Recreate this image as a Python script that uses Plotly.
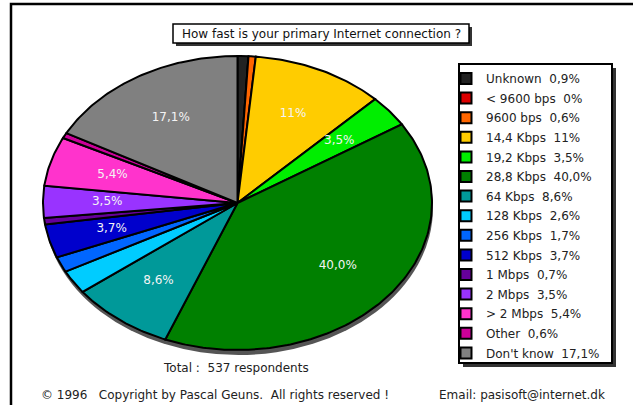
import numpy as np
import plotly.graph_objects as go

# ---------------- data ----------------
categories = ["Unknown", "< 9600 bps", "9600 bps", "14,4 Kbps", "19,2 Kbps",
              "28,8 Kbps", "64 Kbps", "128 Kbps", "256 Kbps", "512 Kbps",
              "1 Mbps", "2 Mbps", "> 2 Mbps", "Other", "Don't know"]
shares = [0.9, 0.0, 0.6, 11.0, 3.5, 40.0, 8.6, 2.6, 1.7, 3.7, 0.7, 3.5, 5.4, 0.6, 17.1]
share_labels = ["0,9%", "0%", "0,6%", "11%", "3,5%", "40,0%", "8,6%", "2,6%",
                "1,7%", "3,7%", "0,7%", "3,5%", "5,4%", "0,6%", "17,1%"]
colors = ["#222222", "#dd0000", "#ff6600", "#ffcc00", "#00ee00",
          "#008000", "#009999", "#00ccff", "#0066ff", "#0000cc",
          "#660099", "#9933ff", "#ff33cc", "#cc0099", "#808080"]
total_respondents = 537
title_text = "How fast is your primary Internet connection ?"
copyright_text = "\u00a9 1996\u00a0\u00a0 Copyright by Pascal Geuns.\u00a0 All rights reserved !"
email_text = "Email: pasisoft@internet.dk"

# ---------------- layout constants (pixels) ----------------
W, H = 633, 405
CX, CY, RX, RY = 237.5, 203, 194.5, 147
FONT = "DejaVu Sans"

fig = go.Figure()

total = sum(shares)
cum = 0.0
label_x, label_y, label_t = [], [], []
for cat, v, lab, col in zip(categories, shares, share_labels, colors):
    a0 = cum / total * 2 * np.pi
    a1 = (cum + v) / total * 2 * np.pi
    n = max(2, int(v * 4) + 2)
    t = np.linspace(a0, a1, n)
    xs = np.concatenate([[CX], CX + RX * np.sin(t), [CX]])
    ys = np.concatenate([[CY], CY - RY * np.cos(t), [CY]])
    fig.add_trace(go.Scatter(x=xs, y=ys, mode="lines", fill="toself",
                             fillcolor=col, line=dict(color="black", width=2),
                             showlegend=False, hoverinfo="text",
                             text=f"{cat}  {lab}", name=cat))
    if v > 3:
        am = (a0 + a1) / 2
        label_x.append(CX + 0.67 * RX * np.sin(am))
        label_y.append(CY - 0.67 * RY * np.cos(am))
        label_t.append(lab)
    cum += v

fig.add_trace(go.Scatter(x=label_x, y=label_y, mode="text", text=label_t,
                         textfont=dict(family=FONT, size=12, color="#f4f4f4"),
                         showlegend=False, hoverinfo="skip"))

# legend entries
for i, (cat, lab, col) in enumerate(zip(categories, share_labels, colors)):
    fig.add_trace(go.Scatter(x=[None], y=[None], mode="markers",
                             marker=dict(symbol="square", size=11, color=col,
                                         line=dict(color="black", width=2)),
                             name=f"{cat}\u00a0 {lab}", legendgroup=str(i),
                             showlegend=True))

shapes = [
    # outer frame
    dict(type="rect", xref="x", yref="y", x0=11, y0=4, x1=W + 10, y1=H + 10,
         line=dict(color="black", width=2.5), layer="below"),
    # pie shadow
    dict(type="circle", xref="x", yref="y", x0=CX - RX + 1, x1=CX + RX + 1,
         y0=CY - RY + 5, y1=CY + RY + 5, fillcolor="#555555",
         line=dict(width=0), layer="below"),
    # title box shadow + box
    dict(type="rect", xref="x", yref="y", x0=176, y0=27, x1=472, y1=46,
         fillcolor="#333333", line=dict(width=0), layer="below"),
    dict(type="rect", xref="x", yref="y", x0=173, y0=24, x1=469, y1=43,
         fillcolor="white", line=dict(color="black", width=1.5), layer="below"),
    # legend box shadow + box
    dict(type="rect", xref="x", yref="y", x0=463, y0=68, x1=616, y1=367,
         fillcolor="#333333", line=dict(width=0), layer="below"),
    dict(type="rect", xref="x", yref="y", x0=459, y0=64, x1=612, y1=363,
         fillcolor="white", line=dict(color="black", width=2), layer="below"),
]

annotations = [
    dict(x=321, y=34, xref="x", yref="y", text=title_text, showarrow=False,
         font=dict(family=FONT, size=12, color="#111111")),
    dict(x=236, y=368, xref="x", yref="y",
         text=f"Total :\u00a0 {total_respondents} respondents", showarrow=False,
         font=dict(family=FONT, size=12, color="#222222")),
    dict(x=39, y=395, xref="x", yref="y", xanchor="left", text=copyright_text,
         showarrow=False, font=dict(family=FONT, size=12, color="#222222")),
    dict(x=437, y=395, xref="x", yref="y", xanchor="left", text=email_text,
         showarrow=False, font=dict(family=FONT, size=12, color="#222222")),
]

fig.update_layout(
    width=W, height=H,
    margin=dict(l=0, r=0, t=0, b=0),
    paper_bgcolor="white", plot_bgcolor="white",
    xaxis=dict(range=[0, W], visible=False, fixedrange=True),
    yaxis=dict(range=[H, 0], visible=False, fixedrange=True),
    shapes=shapes, annotations=annotations,
    showlegend=True,
    legend=dict(x=446 / W, y=1 - 64 / H, xanchor="left", yanchor="top",
                bgcolor="rgba(0,0,0,0)", borderwidth=0,
                font=dict(family=FONT, size=12, color="#222222"),
                tracegroupgap=0.6, itemsizing="trace", traceorder="grouped"),
    font=dict(family=FONT),
)

fig.write_html("out.html",
               config={"displayModeBar": False},
               post_script="document.body.style.margin='0';document.body.style.overflow='hidden';")
